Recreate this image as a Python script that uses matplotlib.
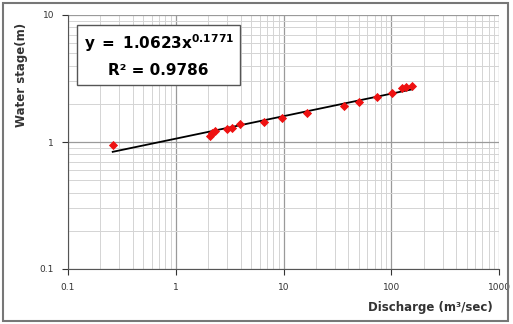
import numpy as np
import matplotlib.pyplot as plt
from matplotlib.patches import Rectangle
from matplotlib.ticker import LogLocator, FixedLocator, FixedFormatter, NullFormatter

# discharge (m3/sec) and water stage (m)
discharge = [0.26, 2.1, 2.15, 2.3, 3.0, 3.3, 3.95, 6.6, 9.7, 16.5, 36.4, 50.2, 73.8, 101.6, 126, 137, 156]
stage = [0.95, 1.12, 1.17, 1.21, 1.27, 1.30, 1.386, 1.437, 1.545, 1.69, 1.92, 2.07, 2.26, 2.43, 2.66, 2.71, 2.76]

coef_a = 1.0623
coef_b = 0.1771
r2 = 0.9786

x_ticks = [0.1, 1, 10, 100, 1000]
x_labels = ['0.1', '1', '10', '100', '1000']
y_ticks = [0.1, 1, 10]
y_labels = ['0.1', '1', '10']

fig = plt.figure(figsize=(5.13, 3.24), dpi=100)
ax = fig.add_axes([68/513, 55/324, 431/513, 254/324])

ax.set_xscale('log')
ax.set_yscale('log')
ax.set_xlim(0.1, 1000)
ax.set_ylim(0.1, 10)

ax.xaxis.set_major_locator(FixedLocator(x_ticks))
ax.xaxis.set_major_formatter(FixedFormatter(x_labels))
ax.yaxis.set_major_locator(FixedLocator(y_ticks))
ax.yaxis.set_major_formatter(FixedFormatter(y_labels))
ax.xaxis.set_minor_locator(LogLocator(base=10, subs=np.arange(2, 10)))
ax.yaxis.set_minor_locator(LogLocator(base=10, subs=np.arange(2, 10)))
ax.xaxis.set_minor_formatter(NullFormatter())
ax.yaxis.set_minor_formatter(NullFormatter())

ax.grid(which='major', color='#9a9a9a', linewidth=0.9)
ax.grid(which='minor', color='#d4d4d4', linewidth=0.7)
ax.set_axisbelow(True)
ax.tick_params(which='major', length=4, width=0.8, labelsize=6.5, colors='#333333', pad=6)
ax.tick_params(which='minor', length=0)
for s in ['top', 'right']:
    ax.spines[s].set_visible(False)
for s in ['left', 'bottom']:
    ax.spines[s].set_color('#555555')

# fitted power curve
xf = np.logspace(np.log10(min(discharge)), np.log10(max(discharge)), 100)
yf = coef_a * xf ** coef_b
ax.plot(xf, yf, color='black', linewidth=1.3, zorder=3)
ax.scatter(discharge, stage, marker='D', s=22, color='#ee1111', zorder=4, linewidths=0)

eq = r'$\mathbf{y\ =\ %.4fx^{%.4f}}$' % (coef_a, coef_b) + '\nR\u00b2 = %.4f' % r2
ax.text(0.036, 0.93, eq,
        transform=ax.transAxes, ha='left', va='top', fontsize=11, fontweight='bold',
        linespacing=1.75, multialignment='center',
        bbox=dict(boxstyle='square,pad=0.4', facecolor='white', edgecolor='#555555', linewidth=1))

fig.text(22/513, 1 - 75/324, 'Water stage(m)', rotation=90, ha='center', va='center',
         fontsize=8.5, fontweight='bold', color='#333333')
fig.text(430/513, 1 - 308/324, 'Discharge (m\u00b3/sec)', ha='center', va='center',
         fontsize=8.5, fontweight='bold', color='#333333')

fig.patches.append(Rectangle((3/513, 3/324), 505/513, 318/324, transform=fig.transFigure,
                             fill=False, edgecolor='#777777', linewidth=1.5))

fig.savefig('out.png', dpi=100)
